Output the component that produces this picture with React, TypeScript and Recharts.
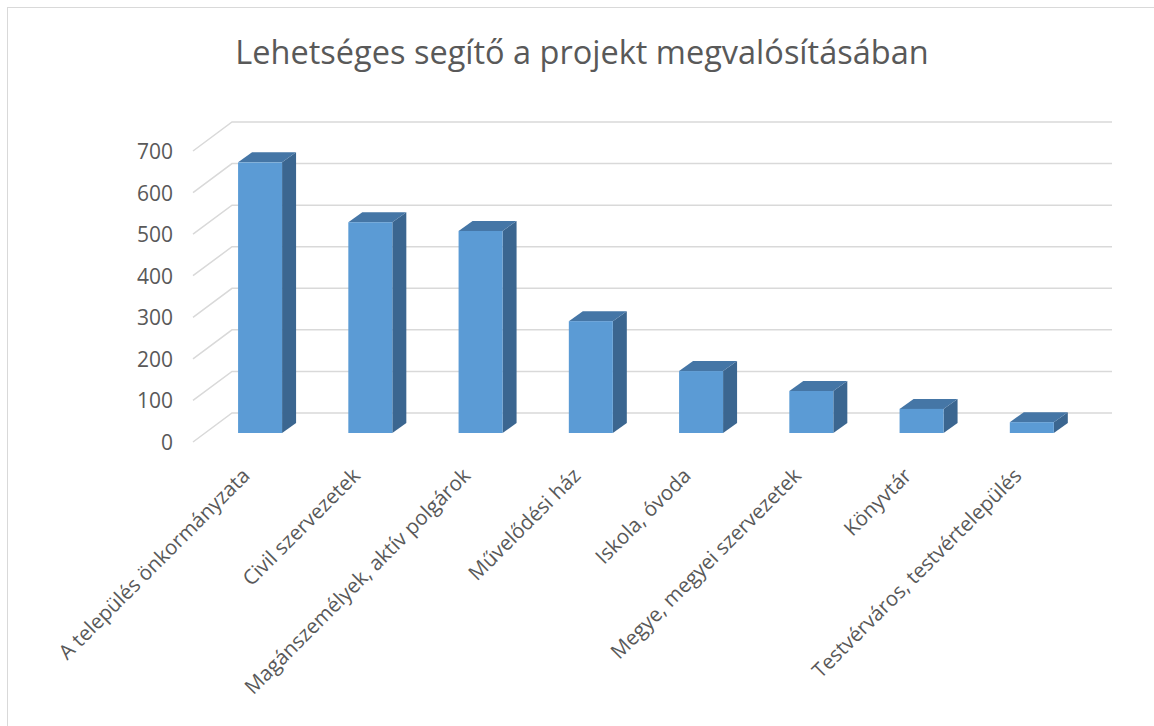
import React from 'react';
import { BarChart, Bar, XAxis, YAxis, CartesianGrid } from 'recharts';

const title = 'Lehetséges segítő a projekt megvalósításában';
const categories = [
  'A település önkormányzata',
  'Civil szervezetek',
  'Magánszemélyek, aktív polgárok',
  'Művelődési ház',
  'Iskola, óvoda',
  'Megye, megyei szervezetek',
  'Könyvtár',
  'Testvérváros, testvértelepülés',
];
const values = [651, 507, 486, 269, 149, 101, 58, 26];
const yTicks = [0, 100, 200, 300, 400, 500, 600, 700];

const data = categories.map((name, i) => ({ name, value: values[i] }));

const FONT = '"Open Sans", "Liberation Sans", sans-serif';
const TEXT = '#595959';
const GRID = '#d9d9d9';
const BAR_DX = 14;
const BAR_DY = -10;
const FRONT_DX = -12;
const FRONT_DY = 9;
const BACK_DX = 27;
const BACK_DY = -20;

const gridLine = (props: any) => {
  const { x1, y1, x2 } = props;
  const d = `M${x1 + FRONT_DX},${y1 + FRONT_DY} L${x1 + BACK_DX},${y1 + BACK_DY} L${x2 + BACK_DX - 2},${y1 + BACK_DY}`;
  return <path key={`g-${y1}`} d={d} stroke={GRID} strokeWidth={1.5} fill="none" />;
};

const Bar3D = (props: any) => {
  const { x, y, width, height } = props;
  if (height == null || width == null) return null;
  const top = `${x},${y} ${x + BAR_DX},${y + BAR_DY} ${x + width + BAR_DX},${y + BAR_DY} ${x + width},${y}`;
  const side = `${x + width},${y} ${x + width + BAR_DX},${y + BAR_DY} ${x + width + BAR_DX},${y + height + BAR_DY} ${x + width},${y + height}`;
  return (
    <g>
      <polygon points={side} fill="#3b6690" />
      <polygon points={top} fill="#4576a6" />
      <rect x={x} y={y} width={width} height={height} fill="#5b9bd5" />
    </g>
  );
};

const YTick = (props: any) => {
  const { x, y, payload } = props;
  return (
    <text x={x - 32} y={y + FRONT_DY} textAnchor="end" dominantBaseline="central" fill={TEXT} fontSize={21} fontFamily={FONT}>
      {payload.value}
    </text>
  );
};

const XTick = (props: any) => {
  const { x, y, payload } = props;
  const ax = x - 9;
  const ay = y + 44;
  return (
    <text x={ax} y={ay} textAnchor="end" transform={`rotate(-45 ${ax} ${ay})`} fill={TEXT} fontSize={20.5} fontFamily={FONT}>
      {payload.value}
    </text>
  );
};

export default function App() {
  return (
    <div style={{ position: 'absolute', left: 0, top: 0, width: 1154, height: 726, overflow: 'hidden', background: '#fff' }}>
      <div style={{ position: 'absolute', left: 7, top: 7, width: 1200, height: 800, borderLeft: '1.5px solid #d9d9d9', borderTop: '1.5px solid #d9d9d9' }} />
      <div style={{ position: 'absolute', left: 0, top: 0 }}>
        <BarChart
          width={1154}
          height={726}
          data={data}
          margin={{ top: 142, right: 67, bottom: 233, left: 145 }}
          barCategoryGap="30%"
        >
          <text x={582} y={64} textAnchor="middle" fill={TEXT} fontSize={32.5} fontFamily={FONT}>
            {title}
          </text>
          <CartesianGrid horizontal={gridLine} vertical={false} />
          <XAxis dataKey="name" axisLine={false} tickLine={false} tickSize={0} tickMargin={0} height={60} interval={0} tick={<XTick />} />
          <YAxis domain={[0, 700]} ticks={yTicks} axisLine={false} tickLine={false} tickSize={0} tickMargin={0} width={60} tick={<YTick />} />
          <Bar dataKey="value" isAnimationActive={false} shape={<Bar3D />} />
        </BarChart>
      </div>
    </div>
  );
}
